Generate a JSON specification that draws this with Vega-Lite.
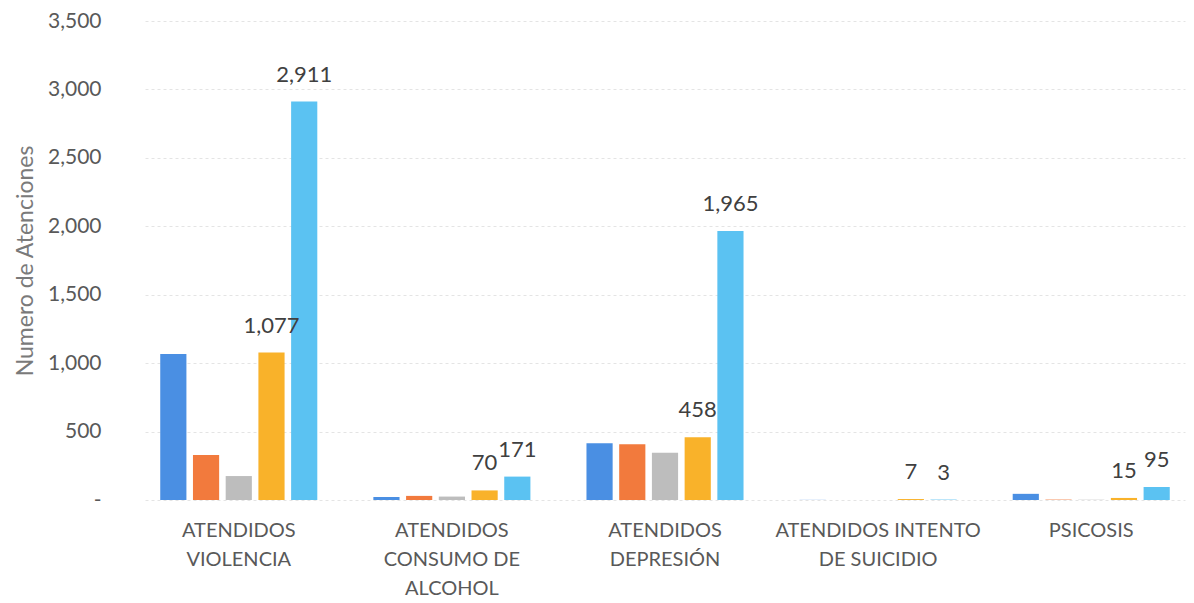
{
  "$schema": "https://vega.github.io/schema/vega-lite/v6.json",
  "width": 1040,
  "height": 479,
  "autosize": "none",
  "padding": {"left": 145, "top": 21, "right": 9, "bottom": 103},
  "background": "white",
  "config": {
    "view": {"stroke": null},
    "font": "Lato"
  },
  "data": {
    "values": [
      {"cat": "ATENDIDOS|VIOLENCIA", "s": 1, "v": 1066},
      {"cat": "ATENDIDOS|VIOLENCIA", "s": 2, "v": 329},
      {"cat": "ATENDIDOS|VIOLENCIA", "s": 3, "v": 175},
      {"cat": "ATENDIDOS|VIOLENCIA", "s": 4, "v": 1077},
      {"cat": "ATENDIDOS|VIOLENCIA", "s": 5, "v": 2911},
      {"cat": "ATENDIDOS|CONSUMO DE|ALCOHOL", "s": 1, "v": 22},
      {"cat": "ATENDIDOS|CONSUMO DE|ALCOHOL", "s": 2, "v": 30},
      {"cat": "ATENDIDOS|CONSUMO DE|ALCOHOL", "s": 3, "v": 25},
      {"cat": "ATENDIDOS|CONSUMO DE|ALCOHOL", "s": 4, "v": 70},
      {"cat": "ATENDIDOS|CONSUMO DE|ALCOHOL", "s": 5, "v": 171},
      {"cat": "ATENDIDOS|DEPRESIÓN", "s": 1, "v": 414},
      {"cat": "ATENDIDOS|DEPRESIÓN", "s": 2, "v": 407},
      {"cat": "ATENDIDOS|DEPRESIÓN", "s": 3, "v": 345},
      {"cat": "ATENDIDOS|DEPRESIÓN", "s": 4, "v": 458},
      {"cat": "ATENDIDOS|DEPRESIÓN", "s": 5, "v": 1965},
      {"cat": "ATENDIDOS INTENTO|DE SUICIDIO", "s": 1, "v": 1},
      {"cat": "ATENDIDOS INTENTO|DE SUICIDIO", "s": 2, "v": 0},
      {"cat": "ATENDIDOS INTENTO|DE SUICIDIO", "s": 3, "v": 0},
      {"cat": "ATENDIDOS INTENTO|DE SUICIDIO", "s": 4, "v": 7},
      {"cat": "ATENDIDOS INTENTO|DE SUICIDIO", "s": 5, "v": 3},
      {"cat": "PSICOSIS", "s": 1, "v": 45},
      {"cat": "PSICOSIS", "s": 2, "v": 3},
      {"cat": "PSICOSIS", "s": 3, "v": 2},
      {"cat": "PSICOSIS", "s": 4, "v": 15},
      {"cat": "PSICOSIS", "s": 5, "v": 95}
    ]
  },
  "encoding": {
    "x": {
      "field": "cat",
      "type": "nominal",
      "sort": null,
      "scale": {"paddingInner": 0.24, "paddingOuter": 0.06},
      "axis": {
        "title": null,
        "labelExpr": "split(datum.label, '|')",
        "labelAngle": 0,
        "labelFontSize": 20,
        "labelColor": "#595959",
        "labelLineHeight": 29,
        "labelPadding": 20,
        "labelLimit": 300,
        "ticks": false,
        "domain": false
      }
    },
    "xOffset": {
      "field": "s",
      "type": "ordinal",
      "scale": {"paddingInner": 0.2, "paddingOuter": 0.075}
    },
    "y": {
      "field": "v",
      "type": "quantitative",
      "scale": {"domain": [0, 3500], "nice": false},
      "axis": {
        "title": "Numero de Atenciones",
        "titleFontSize": 23,
        "titleFontWeight": "normal",
        "titleColor": "#7a7a7a",
        "titlePadding": 10,
        "values": [0, 500, 1000, 1500, 2000, 2500, 3000, 3500],
        "labelExpr": "datum.value == 0 ? '-' : format(datum.value, ',')",
        "labelFontSize": 21,
        "labelColor": "#595959",
        "labelPadding": 44,
        "ticks": false,
        "domain": false,
        "gridColor": "#e4e4e4",
        "gridDash": [3, 3]
      }
    }
  },
  "layer": [
    {
      "mark": {"type": "bar"},
      "encoding": {
        "color": {
          "field": "s",
          "type": "ordinal",
          "legend": null,
          "scale": {"domain": [1, 2, 3, 4, 5], "range": ["#4A8FE3", "#F27A3D", "#BDBDBD", "#F9B22A", "#5BC2F2"]}
        }
      }
    },
    {
      "transform": [{"filter": "datum.s >= 4"}],
      "mark": {"type": "text", "baseline": "middle", "dy": -27, "fontSize": 22, "color": "#404040"},
      "encoding": {
        "text": {"field": "v", "type": "quantitative", "format": ","}
      }
    }
  ]
}
